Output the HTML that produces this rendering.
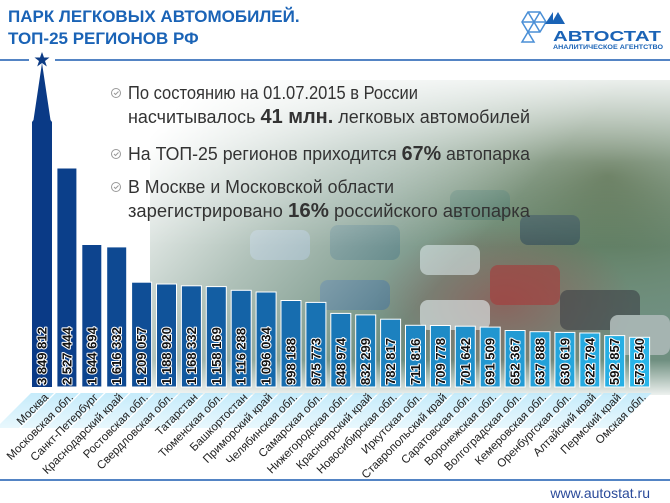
<!DOCTYPE html>
<html><head><meta charset="utf-8"><style>
html,body{margin:0;padding:0;background:#fff}
svg{display:block;font-family:"Liberation Sans","Noto Sans CJK SC",sans-serif}
.v{font-size:13px;font-weight:bold;fill:#111;stroke:#fff;stroke-width:2px;paint-order:stroke;stroke-linejoin:round}
.n{font-size:11.5px;fill:#222;text-anchor:end}
.lb{fill:url(#lab);opacity:.9}
.b{stroke:#fff;stroke-width:1}
</style></head><body>
<svg width="670" height="503" viewBox="0 0 670 503" xmlns="http://www.w3.org/2000/svg">
<defs>
<linearGradient id="fade" x1="0" y1="0" x2="1" y2="0.6">
<stop offset="0.1" stop-color="#fff" stop-opacity="1"/>
<stop offset="0.4" stop-color="#fff" stop-opacity="0.45"/>
<stop offset="0.7" stop-color="#fff" stop-opacity="0"/>
</linearGradient>
<linearGradient id="fadeTop" x1="0" y1="0" x2="0" y2="1">
<stop offset="0" stop-color="#fff" stop-opacity="1"/>
<stop offset="0.3" stop-color="#fff" stop-opacity="0.3"/>
<stop offset="0.55" stop-color="#fff" stop-opacity="0"/>
</linearGradient>
<linearGradient id="fadeBot" x1="0" y1="0" x2="0" y2="1">
<stop offset="0" stop-color="#fff" stop-opacity="0"/>
<stop offset="1" stop-color="#fff" stop-opacity="1"/>
</linearGradient>
<radialGradient id="tree" cx="0.88" cy="0.3" r="0.45">
<stop offset="0" stop-color="#3f5a35"/>
<stop offset="1" stop-color="#6f8a66" stop-opacity="0"/>
</radialGradient>
<radialGradient id="red" cx="0.68" cy="0.7" r="0.25">
<stop offset="0" stop-color="#9a4a48" stop-opacity="0.6"/>
<stop offset="1" stop-color="#9a4a48" stop-opacity="0"/>
</radialGradient>
<linearGradient id="lab" x1="0" y1="0" x2="0" y2="1">
<stop offset="0" stop-color="#bfe9fa"/>
<stop offset="1" stop-color="#e6f7fd"/>
</linearGradient>
</defs>

<rect x="150" y="80" width="520" height="320" fill="#6f8f80"/>
<rect x="150" y="80" width="520" height="320" fill="url(#tree)"/>
<rect x="150" y="80" width="520" height="320" fill="url(#red)"/>
<g opacity="0.6">
<rect x="250" y="230" width="60" height="30" rx="8" fill="#8fb0c8"/>
<rect x="330" y="225" width="70" height="35" rx="8" fill="#3e6e78"/>
<rect x="420" y="245" width="60" height="30" rx="8" fill="#d9e6e8"/>
<rect x="490" y="265" width="70" height="40" rx="8" fill="#a83a3a"/>
<rect x="560" y="290" width="80" height="40" rx="8" fill="#3b3f45"/>
<rect x="610" y="315" width="60" height="40" rx="8" fill="#c9cdd3"/>
<rect x="420" y="300" width="70" height="30" rx="8" fill="#e6f0f2"/>
<rect x="320" y="280" width="70" height="30" rx="8" fill="#3f6f96"/>
<rect x="520" y="215" width="60" height="30" rx="8" fill="#2f4a5a"/>
<rect x="450" y="190" width="60" height="30" rx="8" fill="#3f6f60"/>
</g>
<rect x="150" y="60" width="520" height="340" fill="url(#fade)"/>
<rect x="150" y="60" width="520" height="340" fill="url(#fadeTop)"/>
<rect x="0" y="360" width="670" height="40" fill="url(#fadeBot)"/>
<rect x="0" y="395" width="670" height="108" fill="#fff"/>

<text x="8" y="22" font-size="17" font-weight="bold" fill="#1a63b6">ПАРК ЛЕГКОВЫХ АВТОМОБИЛЕЙ.</text>
<text x="8" y="44" font-size="17" font-weight="bold" fill="#1a63b6">ТОП-25 РЕГИОНОВ РФ</text>
<g transform="translate(520,12)" fill="none" stroke="#4a8fd6" stroke-width="1.5">
<polygon points="8,0 20,0 26,10 20,20 8,20 2,10"/>
<line x1="2" y1="10" x2="26" y2="10"/><line x1="8" y1="0" x2="20" y2="20"/><line x1="20" y1="0" x2="8" y2="20"/>
<polygon points="2,30 14,30 8,20"/>
</g>
<polygon points="545,24 553,12 553,24" fill="#1a63b6"/>
<polygon points="551,24 558,12 565,24" fill="#1a63b6"/>
<text x="553" y="41" font-size="15" font-weight="bold" fill="#1a63b6" textLength="108" lengthAdjust="spacingAndGlyphs">АВТОСТАТ</text>
<text x="553" y="49" font-size="6" font-weight="bold" fill="#1a63b6" textLength="110" lengthAdjust="spacingAndGlyphs">АНАЛИТИЧЕСКОЕ АГЕНТСТВО</text>

<line x1="0" y1="60" x2="29" y2="60" stroke="#1a5bb0" stroke-width="1.5"/>
<line x1="55" y1="60" x2="670" y2="60" stroke="#1a5bb0" stroke-width="1.5"/>
<polygon points="42,52 44,57.5 49.5,57.5 45,61 46.8,66.5 42,63 37.2,66.5 39,61 34.5,57.5 40,57.5" fill="#0d3c86"/>

<g font-size="18" fill="#333">
<text x="128" y="99" textLength="290" lengthAdjust="spacingAndGlyphs">По состоянию на 01.07.2015 в России</text>
<text x="128" y="123" textLength="402" lengthAdjust="spacingAndGlyphs">насчитывалось <tspan font-weight="bold" font-size="20">41 млн.</tspan> легковых автомобилей</text>
<text x="128" y="160" textLength="402" lengthAdjust="spacingAndGlyphs">На ТОП-25 регионов приходится <tspan font-weight="bold" font-size="20">67%</tspan> автопарка</text>
<text x="128" y="193" textLength="266" lengthAdjust="spacingAndGlyphs">В Москве и Московской области</text>
<text x="128" y="217" textLength="402" lengthAdjust="spacingAndGlyphs">зарегистрировано <tspan font-weight="bold" font-size="20">16%</tspan> российского автопарка</text>
</g>
<g fill="none" stroke="#999" stroke-width="1">
<circle cx="116" cy="93" r="4.5"/><circle cx="116" cy="154" r="4.5"/><circle cx="116" cy="187" r="4.5"/>
<path d="M114 93l1.5 1.5 3-3M114 154l1.5 1.5 3-3M114 187l1.5 1.5 3-3"/>
</g>

<g transform="translate(32,0)"><polygon class="lb" points="-1,393 22,393 -13,428 -36,428"/><polygon points="0,387 0,122 1.5,120 10,63 18.5,120 20,122 20,387" fill="rgb(10,58,134)"/><text class="v" transform="translate(14.5,385) rotate(-90)">3 849 812</text><text class="n" transform="translate(17,398) rotate(-45)">Москва</text></g>
<g transform="translate(56.9,0)"><polygon class="lb" points="-1,393 22,393 -13,428 -36,428"/><rect class="b" x="0" y="168" width="20" height="219" fill="rgb(11,63,138)"/><text class="v" transform="translate(14.5,385) rotate(-90)">2 527 444</text><text class="n" transform="translate(17,398) rotate(-45)">Московская обл.</text></g>
<g transform="translate(81.8,0)"><polygon class="lb" points="-1,393 22,393 -13,428 -36,428"/><rect class="b" x="0" y="244.5" width="20" height="142.5" fill="rgb(13,68,142)"/><text class="v" transform="translate(14.5,385) rotate(-90)">1 644 694</text><text class="n" transform="translate(17,398) rotate(-45)">Санкт-Петербург</text></g>
<g transform="translate(106.7,0)"><polygon class="lb" points="-1,393 22,393 -13,428 -36,428"/><rect class="b" x="0" y="246.9" width="20" height="140.1" fill="rgb(14,73,146)"/><text class="v" transform="translate(14.5,385) rotate(-90)">1 616 332</text><text class="n" transform="translate(17,398) rotate(-45)">Краснодарский край</text></g>
<g transform="translate(131.6,0)"><polygon class="lb" points="-1,393 22,393 -13,428 -36,428"/><rect class="b" x="0" y="282.2" width="20" height="104.8" fill="rgb(15,78,150)"/><text class="v" transform="translate(14.5,385) rotate(-90)">1 209 057</text><text class="n" transform="translate(17,398) rotate(-45)">Ростовская обл.</text></g>
<g transform="translate(156.5,0)"><polygon class="lb" points="-1,393 22,393 -13,428 -36,428"/><rect class="b" x="0" y="284" width="20" height="103" fill="rgb(16,83,154)"/><text class="v" transform="translate(14.5,385) rotate(-90)">1 188 920</text><text class="n" transform="translate(17,398) rotate(-45)">Свердловская обл.</text></g>
<g transform="translate(181.4,0)"><polygon class="lb" points="-1,393 22,393 -13,428 -36,428"/><rect class="b" x="0" y="285.8" width="20" height="101.2" fill="rgb(18,89,159)"/><text class="v" transform="translate(14.5,385) rotate(-90)">1 168 332</text><text class="n" transform="translate(17,398) rotate(-45)">Татарстан</text></g>
<g transform="translate(206.3,0)"><polygon class="lb" points="-1,393 22,393 -13,428 -36,428"/><rect class="b" x="0" y="286.6" width="20" height="100.4" fill="rgb(19,94,163)"/><text class="v" transform="translate(14.5,385) rotate(-90)">1 158 169</text><text class="n" transform="translate(17,398) rotate(-45)">Тюменская обл.</text></g>
<g transform="translate(231.2,0)"><polygon class="lb" points="-1,393 22,393 -13,428 -36,428"/><rect class="b" x="0" y="290.3" width="20" height="96.7" fill="rgb(20,99,167)"/><text class="v" transform="translate(14.5,385) rotate(-90)">1 116 288</text><text class="n" transform="translate(17,398) rotate(-45)">Башкортостан</text></g>
<g transform="translate(256.1,0)"><polygon class="lb" points="-1,393 22,393 -13,428 -36,428"/><rect class="b" x="0" y="292" width="20" height="95" fill="rgb(21,104,171)"/><text class="v" transform="translate(14.5,385) rotate(-90)">1 096 034</text><text class="n" transform="translate(17,398) rotate(-45)">Приморский край</text></g>
<g transform="translate(281,0)"><polygon class="lb" points="-1,393 22,393 -13,428 -36,428"/><rect class="b" x="0" y="300.5" width="20" height="86.5" fill="rgb(23,109,175)"/><text class="v" transform="translate(14.5,385) rotate(-90)">998 188</text><text class="n" transform="translate(17,398) rotate(-45)">Челябинская обл.</text></g>
<g transform="translate(305.9,0)"><polygon class="lb" points="-1,393 22,393 -13,428 -36,428"/><rect class="b" x="0" y="302.4" width="20" height="84.6" fill="rgb(24,114,179)"/><text class="v" transform="translate(14.5,385) rotate(-90)">975 773</text><text class="n" transform="translate(17,398) rotate(-45)">Самарская обл.</text></g>
<g transform="translate(330.8,0)"><polygon class="lb" points="-1,393 22,393 -13,428 -36,428"/><rect class="b" x="0" y="313.4" width="20" height="73.6" fill="rgb(25,119,183)"/><text class="v" transform="translate(14.5,385) rotate(-90)">848 974</text><text class="n" transform="translate(17,398) rotate(-45)">Нижегородская обл.</text></g>
<g transform="translate(355.7,0)"><polygon class="lb" points="-1,393 22,393 -13,428 -36,428"/><rect class="b" x="0" y="314.9" width="20" height="72.1" fill="rgb(26,124,187)"/><text class="v" transform="translate(14.5,385) rotate(-90)">832 299</text><text class="n" transform="translate(17,398) rotate(-45)">Красноярский край</text></g>
<g transform="translate(380.6,0)"><polygon class="lb" points="-1,393 22,393 -13,428 -36,428"/><rect class="b" x="0" y="319.2" width="20" height="67.8" fill="rgb(28,129,191)"/><text class="v" transform="translate(14.5,385) rotate(-90)">782 817</text><text class="n" transform="translate(17,398) rotate(-45)">Новосибирская обл.</text></g>
<g transform="translate(405.5,0)"><polygon class="lb" points="-1,393 22,393 -13,428 -36,428"/><rect class="b" x="0" y="325.3" width="20" height="61.7" fill="rgb(29,134,195)"/><text class="v" transform="translate(14.5,385) rotate(-90)">711 816</text><text class="n" transform="translate(17,398) rotate(-45)">Иркутская обл.</text></g>
<g transform="translate(430.4,0)"><polygon class="lb" points="-1,393 22,393 -13,428 -36,428"/><rect class="b" x="0" y="325.5" width="20" height="61.5" fill="rgb(30,139,199)"/><text class="v" transform="translate(14.5,385) rotate(-90)">709 778</text><text class="n" transform="translate(17,398) rotate(-45)">Ставропольский край</text></g>
<g transform="translate(455.3,0)"><polygon class="lb" points="-1,393 22,393 -13,428 -36,428"/><rect class="b" x="0" y="326.2" width="20" height="60.8" fill="rgb(31,144,203)"/><text class="v" transform="translate(14.5,385) rotate(-90)">701 642</text><text class="n" transform="translate(17,398) rotate(-45)">Саратовская обл.</text></g>
<g transform="translate(480.2,0)"><polygon class="lb" points="-1,393 22,393 -13,428 -36,428"/><rect class="b" x="0" y="327.1" width="20" height="59.9" fill="rgb(33,150,208)"/><text class="v" transform="translate(14.5,385) rotate(-90)">691 509</text><text class="n" transform="translate(17,398) rotate(-45)">Воронежская обл.</text></g>
<g transform="translate(505.1,0)"><polygon class="lb" points="-1,393 22,393 -13,428 -36,428"/><rect class="b" x="0" y="330.5" width="20" height="56.5" fill="rgb(34,155,212)"/><text class="v" transform="translate(14.5,385) rotate(-90)">652 367</text><text class="n" transform="translate(17,398) rotate(-45)">Волгоградская обл.</text></g>
<g transform="translate(530,0)"><polygon class="lb" points="-1,393 22,393 -13,428 -36,428"/><rect class="b" x="0" y="331.7" width="20" height="55.3" fill="rgb(35,160,216)"/><text class="v" transform="translate(14.5,385) rotate(-90)">637 888</text><text class="n" transform="translate(17,398) rotate(-45)">Кемеровская обл.</text></g>
<g transform="translate(554.9,0)"><polygon class="lb" points="-1,393 22,393 -13,428 -36,428"/><rect class="b" x="0" y="332.4" width="20" height="54.6" fill="rgb(36,165,220)"/><text class="v" transform="translate(14.5,385) rotate(-90)">630 619</text><text class="n" transform="translate(17,398) rotate(-45)">Оренбургская обл.</text></g>
<g transform="translate(579.8,0)"><polygon class="lb" points="-1,393 22,393 -13,428 -36,428"/><rect class="b" x="0" y="333" width="20" height="54" fill="rgb(38,170,224)"/><text class="v" transform="translate(14.5,385) rotate(-90)">622 794</text><text class="n" transform="translate(17,398) rotate(-45)">Алтайский край</text></g>
<g transform="translate(604.7,0)"><polygon class="lb" points="-1,393 22,393 -13,428 -36,428"/><rect class="b" x="0" y="335.6" width="20" height="51.4" fill="rgb(39,175,228)"/><text class="v" transform="translate(14.5,385) rotate(-90)">592 857</text><text class="n" transform="translate(17,398) rotate(-45)">Пермский край</text></g>
<g transform="translate(629.6,0)"><polygon class="lb" points="-1,393 22,393 -13,428 -36,428"/><rect class="b" x="0" y="337.3" width="20" height="49.7" fill="rgb(40,180,232)"/><text class="v" transform="translate(14.5,385) rotate(-90)">573 540</text><text class="n" transform="translate(17,398) rotate(-45)">Омская обл.</text></g>

<line x1="0" y1="480" x2="670" y2="480" stroke="#1a5bb0" stroke-width="1.5"/>
<text x="650" y="498" font-size="14" fill="#2a4a9a" text-anchor="end">www.autostat.ru</text>
</svg>
</body></html>
